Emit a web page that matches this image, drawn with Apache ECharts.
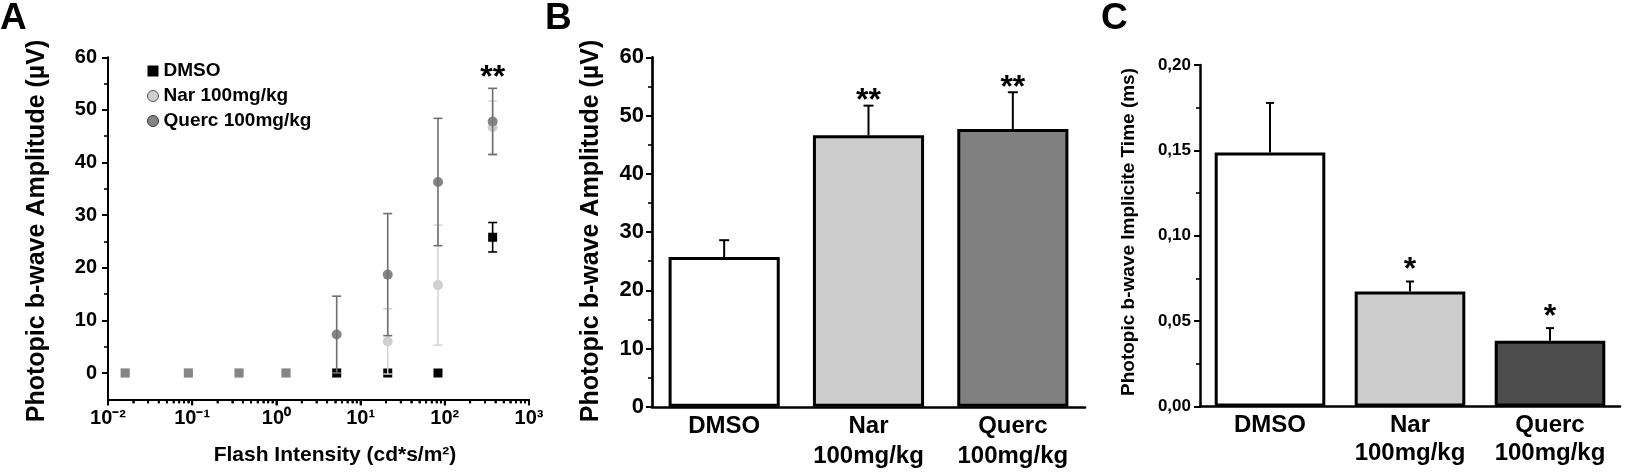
<!DOCTYPE html>
<html>
<head>
<meta charset="utf-8">
<script src="https://cdn.jsdelivr.net/npm/echarts@6/dist/echarts.min.js"></script>
<style>
html,body{margin:0;padding:0;background:#fff;}
#chart{width:1626px;height:473px;}
</style>
</head>
<body>
<div id="chart"></div>
<script>
// ---------------- DATA ----------------
// Panel A: photopic b-wave amplitude vs flash intensity
const intensities = [0.016, 0.09, 0.36, 1.3, 5.2, 21, 83, 370];
const seriesNamesA = ['DMSO', 'Nar 100mg/kg', 'Querc 100mg/kg'];
const dmsoA     = [null, null, null, null, 0, 0, 0, 25.8];
const dmsoAErr  = [null, null, null, null, 0, 0, 0, 2.8];
const narA      = [0, 0, 0, 0, 0, 6.0, 16.7, 46.7];
const narAErr   = [0, 0, 0, 0, 0, 6.2, 11.4, 5.0];
const quercA    = [0, 0, 0, 0, 7.3, 18.7, 36.3, 47.8];
const quercAErr = [0, 0, 0, 0, 7.3, 11.6, 12.1, 6.3];
const sigA      = ['', '', '', '', '', '', '', '**'];
const xDecadesA = [-2, -1, 0, 1, 2, 3];           // log10 of x tick values
const xTickLabelsA = ['10⁻²', '10⁻¹', '10⁰', '10¹', '10²', '10³'];
const yTicksA   = [0, 10, 20, 30, 40, 50, 60];
const yMinorA   = [5, 15, 25, 35, 45, 55];

// Panel B: photopic b-wave amplitude per group
const groups   = ['DMSO', 'Nar\n100mg/kg', 'Querc\n100mg/kg'];
const ampB     = [25.7, 46.6, 47.7];
const ampBErr  = [2.9, 5.1, 6.3];
const sigB     = ['', '**', '**'];

// Panel C: photopic b-wave implicit time per group
const timeC    = [0.1487, 0.0673, 0.0385];
const timeCErr = [0.0291, 0.0059, 0.0074];
const sigC     = ['', '*', '*'];

// ---------------- STYLE ----------------
const FONT = 'Liberation Sans';
const colA = { dmso: '#000000', nar: '#cfcfcf', querc: '#858585' };
const errColA = { dmso: '#000000', nar: '#d4d4d4', querc: '#6f6f6f' };
const barColorsB = ['#ffffff', '#cccccc', '#808080'];
const barColorsC = ['#ffffff', '#cccccc', '#4d4d4d'];

// minor log ticks (axis decoration, in log10 space)
const minorXA = [];
for (let k = -2; k < 3; k++) for (let m = 2; m < 10; m++) minorXA.push(k + Math.log10(m));

const chart = echarts.init(document.getElementById('chart'), null, { renderer: 'canvas' });

function errSeries(name, xs, ys, es, opt) {
  const data = [];
  xs.forEach((x, i) => {
    if (ys[i] != null && es[i] != null && es[i] > 0) data.push([x, ys[i], es[i]]);
  });
  return {
    type: 'custom', name: name, xAxisIndex: opt.xi, yAxisIndex: opt.yi, z: opt.z || 5,
    silent: true, legendHoverLink: false,
    encode: { x: 0, y: 1 },
    data: data,
    renderItem: function (params, api) {
      const x = api.value(0), y = api.value(1), e = api.value(2);
      const top = api.coord([x, y + e]);
      const bot = opt.upOnly ? api.coord([x, y]) : api.coord([x, y - e]);
      const st = { stroke: opt.color, lineWidth: opt.width, fill: null };
      const c = opt.cap;
      const ch = [
        { type: 'line', shape: { x1: top[0], y1: top[1], x2: bot[0], y2: bot[1] }, style: st },
        { type: 'line', shape: { x1: top[0] - c, y1: top[1], x2: top[0] + c, y2: top[1] }, style: st }
      ];
      if (!opt.upOnly) ch.push({ type: 'line', shape: { x1: bot[0] - c, y1: bot[1], x2: bot[0] + c, y2: bot[1] }, style: st });
      return { type: 'group', children: ch };
    }
  };
}

function sigSeries(xs, tops, labels, opt) {
  const data = [];
  xs.forEach((x, i) => { if (labels[i]) data.push([x, tops[i], labels[i]]); });
  return {
    type: 'custom', xAxisIndex: opt.xi, yAxisIndex: opt.yi, z: 6, silent: true,
    encode: { x: 0, y: 1 },
    data: data,
    renderItem: function (params, api) {
      const p = api.coord([api.value(0), api.value(1)]);
      return {
        type: 'text', x: p[0], y: p[1] - opt.gap + 0.275 * opt.size,
        style: {
          text: data[params.dataIndex][2], font: 'bold ' + opt.size + 'px ' + FONT,
          fill: '#000', align: 'center', verticalAlign: 'middle',
          textAlign: 'center', textVerticalAlign: 'middle'
        }
      };
    }
  };
}

const topA = intensities.map((x, i) => Math.max(
  (dmsoA[i] || 0) + (dmsoAErr[i] || 0), narA[i] + narAErr[i], quercA[i] + quercAErr[i]));
const topB = ampB.map((v, i) => v + ampBErr[i]);
const topC = timeC.map((v, i) => v + timeCErr[i]);
const catIdx = [0, 1, 2];

const axisLine2 = w => ({ show: true, onZero: false, lineStyle: { color: '#000', width: w } });
const tickStyle = (len, w) => ({ show: true, inside: false, length: len, lineStyle: { color: '#000', width: w } });
const lblStyle = (size, margin) => ({ color: '#000', fontFamily: FONT, fontWeight: 'bold', fontSize: size, margin: margin });
const xMin = Math.pow(10, xDecadesA[0]), xMax = Math.pow(10, xDecadesA[xDecadesA.length - 1]);

const option = {
  backgroundColor: '#fff',
  animation: false,
  grid: [
    { left: 108, top: 57.3, width: 421, height: 342, outerBoundsMode: 'none', containLabel: false },
    { left: 652, top: 57.3, width: 433, height: 349.5, outerBoundsMode: 'none', containLabel: false },
    { left: 1200, top: 65, width: 420, height: 341.5, outerBoundsMode: 'none', containLabel: false }
  ],
  legend: {
    orient: 'vertical', left: 147, top: 61, itemGap: 5, itemWidth: 11, itemHeight: 11, padding: 0,
    selectedMode: false,
    textStyle: { color: '#000', fontFamily: FONT, fontWeight: 'bold', fontSize: 19, lineHeight: 20 },
    data: [
      { name: seriesNamesA[0], icon: 'rect' },
      { name: seriesNamesA[1], icon: 'circle', itemStyle: { borderColor: '#555', borderWidth: 1 } },
      { name: seriesNamesA[2], icon: 'circle', itemStyle: { borderColor: '#333', borderWidth: 1 } }
    ]
  },
  xAxis: [
    {
      type: 'log', gridIndex: 0, logBase: 10, min: xMin, max: xMax, position: 'bottom', show: false,
      axisLine: { show: false, onZero: false }, axisTick: { show: false }, axisLabel: { show: false }, splitLine: { show: false }
    },
    {
      type: 'value', gridIndex: 0, min: xDecadesA[0], max: xDecadesA[xDecadesA.length - 1], position: 'bottom',
      axisLine: axisLine2(2), splitLine: { show: false },
      axisTick: Object.assign(tickStyle(6, 2), { customValues: xDecadesA }),
      axisLabel: Object.assign(lblStyle(20, 9), {
        customValues: xDecadesA,
        formatter: v => xTickLabelsA[xDecadesA.indexOf(Math.round(v))]
      })
    },
    {
      type: 'value', gridIndex: 0, min: xDecadesA[0], max: xDecadesA[xDecadesA.length - 1], position: 'bottom',
      axisLine: { show: false, onZero: false }, splitLine: { show: false }, axisLabel: { show: false },
      axisTick: Object.assign(tickStyle(4, 1.6), { customValues: minorXA })
    },
    {
      type: 'category', gridIndex: 1, data: groups, boundaryGap: true,
      axisLine: axisLine2(2.7), axisTick: { show: false },
      axisLabel: Object.assign(lblStyle(24, 5), { interval: 0, lineHeight: 30 })
    },
    {
      type: 'category', gridIndex: 2, data: groups, boundaryGap: true,
      axisLine: axisLine2(2.5), axisTick: { show: false },
      axisLabel: Object.assign(lblStyle(24, 5), { interval: 0, lineHeight: 28 })
    }
  ],
  yAxis: [
    {
      type: 'value', gridIndex: 0, min: -5, max: 60, position: 'left',
      axisLine: axisLine2(2), splitLine: { show: false },
      axisTick: Object.assign(tickStyle(6, 2), { customValues: yTicksA }),
      axisLabel: Object.assign(lblStyle(20, 11), { customValues: yTicksA })
    },
    {
      type: 'value', gridIndex: 0, min: -5, max: 60, position: 'left', offset: 0,
      axisLine: { show: false, onZero: false }, splitLine: { show: false }, axisLabel: { show: false },
      axisTick: Object.assign(tickStyle(4, 1.6), { customValues: yMinorA })
    },
    {
      type: 'value', gridIndex: 1, min: 0, max: 60, interval: 10,
      axisLine: axisLine2(2.7), splitLine: { show: false },
      axisTick: tickStyle(6, 2),
      minorTick: { show: true, splitNumber: 2, length: 4, lineStyle: { color: '#000', width: 1.6 } },
      minorSplitLine: { show: false },
      axisLabel: lblStyle(22, 8)
    },
    {
      type: 'value', gridIndex: 2, min: 0, max: 0.2, interval: 0.05,
      axisLine: axisLine2(2.5), splitLine: { show: false },
      axisTick: tickStyle(6, 2),
      minorTick: { show: true, splitNumber: 2, length: 4, lineStyle: { color: '#000', width: 1.6 } },
      minorSplitLine: { show: false },
      axisLabel: Object.assign(lblStyle(17, 9), { formatter: v => v.toFixed(2).replace('.', ',') })
    }
  ],
  graphic: [
    { type: 'text', left: 0, top: 0, style: { text: 'A', font: 'bold 37px ' + FONT, fill: '#000' } },
    { type: 'text', left: 545, top: 0, style: { text: 'B', font: 'bold 37px ' + FONT, fill: '#000' } },
    { type: 'text', left: 1101, top: 0, style: { text: 'C', font: 'bold 37px ' + FONT, fill: '#000' } },
    { type: 'text', x: 37, y: 231, rotation: Math.PI / 2,
      style: { text: 'Photopic b-wave Amplitude (µV)', font: 'bold 25px ' + FONT, fill: '#000', textAlign: 'center', textVerticalAlign: 'middle' } },
    { type: 'text', x: 591, y: 231, rotation: Math.PI / 2,
      style: { text: 'Photopic b-wave Amplitude (µV)', font: 'bold 25px ' + FONT, fill: '#000', textAlign: 'center', textVerticalAlign: 'middle' } },
    { type: 'text', x: 1129, y: 232, rotation: Math.PI / 2,
      style: { text: 'Photopic b-wave Implicite Time (ms)', font: 'bold 19px ' + FONT, fill: '#000', textAlign: 'center', textVerticalAlign: 'middle' } },
    { type: 'text', x: 335, y: 455,
      style: { text: 'Flash Intensity (cd*s/m²)', font: 'bold 21px ' + FONT, fill: '#000', textAlign: 'center', textVerticalAlign: 'middle' } }
  ],
  series: [
    // Panel A: log-x ticks drawn through the data (log) axis scale
    {
      type: 'custom', xAxisIndex: 0, yAxisIndex: 0, z: 20, silent: true, clip: false,
      encode: { x: 0, y: 1 },
      data: xDecadesA.map(d => [Math.pow(10, d), -5, 6]).concat(minorXA.map(d => [Math.pow(10, d), -5, 4])),
      renderItem: function (params, api) {
        const p = api.coord([api.value(0), api.value(1)]);
        const len = api.value(2);
        return { type: 'line', shape: { x1: p[0], y1: p[1], x2: p[0], y2: p[1] + len }, style: { stroke: '#000', lineWidth: 2 } };
      }
    },
    // Panel A markers
    {
      name: seriesNamesA[1], type: 'scatter', xAxisIndex: 0, yAxisIndex: 0, z: 2,
      data: intensities.map((x, i) => [x, narA[i]]),
      symbol: v => (v[1] === 0 ? 'rect' : 'circle'), symbolSize: v => (v[1] === 0 ? 9 : 10),
      itemStyle: { color: colA.nar, opacity: 1 }
    },
    {
      name: seriesNamesA[2], type: 'scatter', xAxisIndex: 0, yAxisIndex: 0, z: 3,
      data: intensities.map((x, i) => [x, quercA[i]]),
      symbol: v => (v[1] === 0 ? 'rect' : 'circle'), symbolSize: v => (v[1] === 0 ? 9 : 10),
      itemStyle: { color: colA.querc, opacity: 1 }
    },
    {
      name: seriesNamesA[0], type: 'scatter', xAxisIndex: 0, yAxisIndex: 0, z: 4,
      data: intensities.map((x, i) => [x, dmsoA[i]]).filter(d => d[1] != null),
      symbol: 'rect', symbolSize: 9,
      itemStyle: { color: colA.dmso, opacity: 1 }
    },
    errSeries('errNar', intensities, narA, narAErr, { xi: 0, yi: 0, z: 5, color: errColA.nar, width: 1.5, cap: 4.5 }),
    errSeries('errQuerc', intensities, quercA, quercAErr, { xi: 0, yi: 0, z: 5, color: errColA.querc, width: 1.6, cap: 4.5 }),
    errSeries('errDmso', intensities, dmsoA, dmsoAErr, { xi: 0, yi: 0, z: 5, color: errColA.dmso, width: 1.6, cap: 4.5 }),
    sigSeries(intensities, topA, sigA, { xi: 0, yi: 0, gap: 18.5, size: 32 }),

    // Panel B
    {
      type: 'bar', xAxisIndex: 3, yAxisIndex: 2, barCategoryGap: '23%', z: 2,
      data: ampB.map((v, i) => ({ value: v, itemStyle: { color: barColorsB[i] } })),
      itemStyle: { borderColor: '#000', borderWidth: 3 }
    },
    errSeries('errB', catIdx, ampB, ampBErr, { xi: 3, yi: 2, z: 1, color: '#000', width: 2, cap: 5, upOnly: true }),
    sigSeries(catIdx, topB, sigB, { xi: 3, yi: 2, gap: 13, size: 32 }),

    // Panel C
    {
      type: 'bar', xAxisIndex: 4, yAxisIndex: 3, barCategoryGap: '21%', z: 2,
      data: timeC.map((v, i) => ({ value: v, itemStyle: { color: barColorsC[i] } })),
      itemStyle: { borderColor: '#000', borderWidth: 3 }
    },
    errSeries('errC', catIdx, timeC, timeCErr, { xi: 4, yi: 3, z: 1, color: '#000', width: 2, cap: 4, upOnly: true }),
    sigSeries(catIdx, topC, sigC, { xi: 4, yi: 3, gap: 20, size: 32 })
  ]
};
chart.setOption(option);
</script>
</body>
</html>
